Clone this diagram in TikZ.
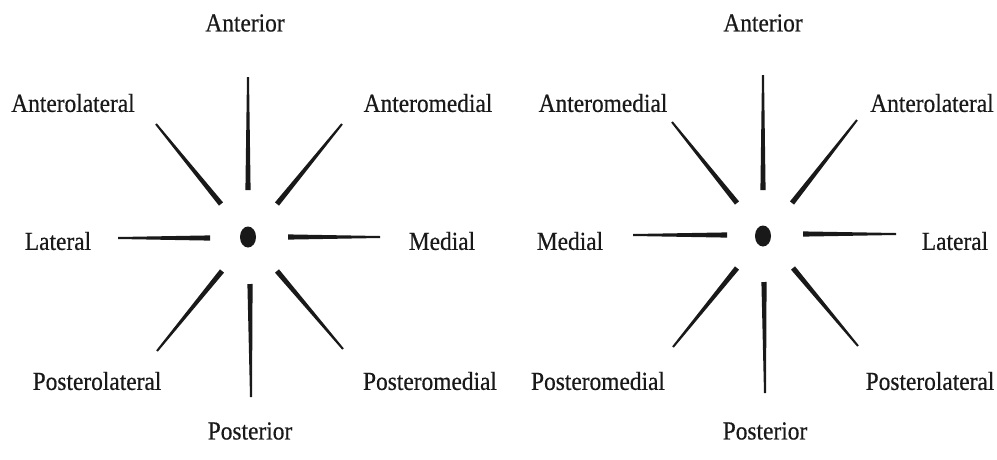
\documentclass[tikz,border=0pt]{standalone}
\usepackage{fontspec}
\setmainfont{Liberation Serif}
\newfontfamily\lblfont[FakeBold=0.5,FakeStretch=0.9]{Liberation Serif}
\usetikzlibrary{calc,shapes.geometric}
\tikzset{
  lbl/.style={font=\lblfont\fontsize{26}{28}\selectfont, text=black!90, inner sep=0pt},
  hub/.style={ellipse, fill=black!90, minimum width=16pt, minimum height=21pt, inner sep=0pt},
  spokefill/.style={fill=black!90}
}
\newcommand{\spokeW}[2]{\fill[spokefill] ($(#1)!2.6pt!90:(#2)$) -- ($(#2)!1pt!-90:(#1)$) -- ($(#2)!1pt!90:(#1)$) -- ($(#1)!2.6pt!-90:(#2)$) -- cycle;}
\begin{document}
\begin{tikzpicture}[x=1pt,y=-1pt]
\useasboundingbox (0,0) rectangle (997,459);
% ---------- left figure ----------
\node[hub] (c1) at (248,237) {};
\coordinate (l1ui) at (248,190); \coordinate (l1uo) at (248,77);
\coordinate (l1uli) at (221,204); \coordinate (l1ulo) at (156,124);
\coordinate (l1uri) at (277,204); \coordinate (l1uro) at (342,124);
\coordinate (l1li) at (210,238); \coordinate (l1lo) at (118,238);
\coordinate (l1ri) at (288,237); \coordinate (l1ro) at (380,237);
\coordinate (l1lli) at (222,271); \coordinate (l1llo) at (157,351);
\coordinate (l1di) at (250,284); \coordinate (l1do) at (251,397);
\coordinate (l1lri) at (277,271); \coordinate (l1lro) at (343,349);
\spokeW{l1ui}{l1uo}
\spokeW{l1uli}{l1ulo}
\spokeW{l1uri}{l1uro}
\spokeW{l1li}{l1lo}
\spokeW{l1ri}{l1ro}
\spokeW{l1lli}{l1llo}
\spokeW{l1di}{l1do}
\spokeW{l1lri}{l1lro}
\node[lbl] (a1) at (245,23) {Anterior};
\node[lbl] (al1) at (73,103) {Anterolateral};
\node[lbl] (am1) at (428,103) {Anteromedial};
\node[lbl] (la1) at (58,241) {Lateral};
\node[lbl] (me1) at (442,241) {Medial};
\node[lbl] (pl1) at (97,381) {Posterolateral};
\node[lbl] (pm1) at (430,381) {Posteromedial};
\node[lbl] (p1) at (250,431) {Posterior};
% ---------- right figure ----------
\node[hub] (c2) at (763,236) {};
\coordinate (r1ui) at (763,190); \coordinate (r1uo) at (763,75);
\coordinate (r1uli) at (737,203); \coordinate (r1ulo) at (672,122);
\coordinate (r1uri) at (792,203); \coordinate (r1uro) at (857,120);
\coordinate (r1li) at (727,235); \coordinate (r1lo) at (633,235);
\coordinate (r1ri) at (803,234); \coordinate (r1ro) at (896,234);
\coordinate (r1lli) at (737,268); \coordinate (r1llo) at (673,347);
\coordinate (r1di) at (764,282); \coordinate (r1do) at (765,393);
\coordinate (r1lri) at (793,268); \coordinate (r1lro) at (858,346);
\spokeW{r1ui}{r1uo}
\spokeW{r1uli}{r1ulo}
\spokeW{r1uri}{r1uro}
\spokeW{r1li}{r1lo}
\spokeW{r1ri}{r1ro}
\spokeW{r1lli}{r1llo}
\spokeW{r1di}{r1do}
\spokeW{r1lri}{r1lro}
\node[lbl] (a2) at (763,23) {Anterior};
\node[lbl] (am2) at (603,103) {Anteromedial};
\node[lbl] (al2) at (932,103) {Anterolateral};
\node[lbl] (me2) at (570,241) {Medial};
\node[lbl] (la2) at (955,241) {Lateral};
\node[lbl] (pm2) at (598,381) {Posteromedial};
\node[lbl] (pl2) at (930,381) {Posterolateral};
\node[lbl] (p2) at (765,431) {Posterior};
\end{tikzpicture}
\end{document}
